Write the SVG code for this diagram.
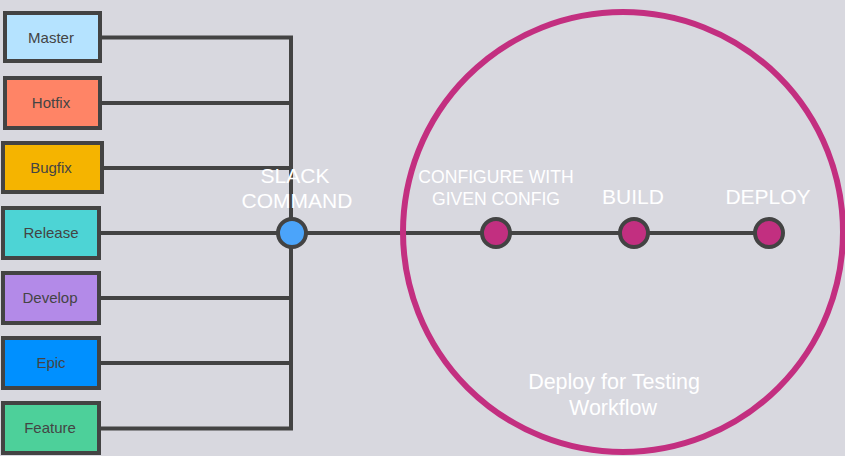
<svg xmlns="http://www.w3.org/2000/svg" width="845" height="456" viewBox="0 0 845 456">
<style>
.box{stroke:#434343;stroke-width:4}
.bl{font-family:"Liberation Sans",Arial,sans-serif;font-size:15px;fill:#444;text-anchor:middle}
.wl{font-family:"Liberation Sans",Arial,sans-serif;fill:#fff;text-anchor:middle}
.conn{stroke:#434343;stroke-width:4;fill:none}
.dot{stroke:#434343;stroke-width:4}
</style>
<rect width="845" height="456" fill="#d8d8df"/>
<g id="connectors">
<path class="conn" d="M100 37.5H291V428.5H100M100 103H291M100 168H291M100 298H291M100 363H291M100 233H768"/>
</g>
<g id="workflow">
<circle cx="623" cy="232" r="220" fill="none" stroke="#c32f80" stroke-width="6"/>
<text class="wl" x="614" y="389" font-size="21.5">Deploy for Testing</text>
<text class="wl" x="613" y="415" font-size="21.5">Workflow</text>
</g>
<g id="master"><rect class="box" x="5" y="13" width="95" height="48" fill="#b5e3ff"/><text class="bl" x="51" y="43">Master</text></g>
<g id="hotfix"><rect class="box" x="5" y="78" width="95" height="50" fill="#ff8466"/><text class="bl" x="51" y="108">Hotfix</text></g>
<g id="bugfix"><rect class="box" x="3" y="143" width="99" height="49" fill="#f5b400"/><text class="bl" x="51" y="173">Bugfix</text></g>
<g id="release"><rect class="box" x="3" y="208" width="96" height="50" fill="#4dd4d5"/><text class="bl" x="51" y="238">Release</text></g>
<g id="develop"><rect class="box" x="3" y="273" width="96" height="50" fill="#b38ae8"/><text class="bl" x="50" y="303">Develop</text></g>
<g id="epic"><rect class="box" x="3" y="338" width="96" height="50" fill="#0090ff"/><text class="bl" x="51" y="368">Epic</text></g>
<g id="feature"><rect class="box" x="3" y="403" width="96" height="50" fill="#4dd09a"/><text class="bl" x="50" y="433">Feature</text></g>
<g id="slack">
<circle class="dot" cx="292" cy="233" r="14" fill="#4ba4fa"/>
<text class="wl" x="295" y="183" font-size="21">SLACK</text>
<text class="wl" x="297" y="208" font-size="21">COMMAND</text>
</g>
<g id="configure">
<circle class="dot" cx="496" cy="233" r="14" fill="#c22f80"/>
<text class="wl" x="496" y="183" font-size="17.6">CONFIGURE WITH</text>
<text class="wl" x="496" y="205" font-size="17.6">GIVEN CONFIG</text>
</g>
<g id="build">
<circle class="dot" cx="634" cy="233" r="14" fill="#c22f80"/>
<text class="wl" x="633" y="204" font-size="21">BUILD</text>
</g>
<g id="deploy">
<circle class="dot" cx="769" cy="233" r="14" fill="#c22f80"/>
<text class="wl" x="768" y="204" font-size="21">DEPLOY</text>
</g>
</svg>
